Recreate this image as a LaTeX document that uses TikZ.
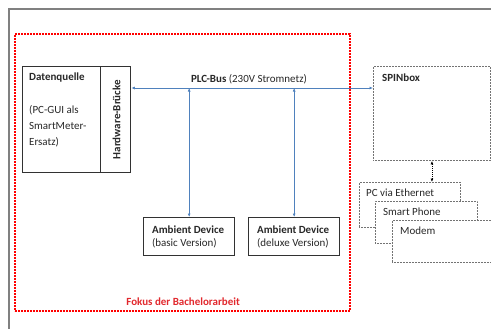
\documentclass[tikz,border=0pt]{standalone}
\usepackage{fontspec}
\setmainfont{Carlito}
\usetikzlibrary{arrows.meta}
\definecolor{busblue}{RGB}{79,129,189}
\definecolor{txtgray}{RGB}{40,40,40}
\definecolor{boxgray}{RGB}{50,50,50}
\definecolor{fokred}{RGB}{225,40,45}
\tikzset{
  solidbox/.style={draw=boxgray, line width=1.3bp, fill=white, inner sep=0pt},
  dotbox/.style={draw=gray!90!black, line width=0.9bp, dash pattern=on 0.9bp off 0.6bp, fill=white, inner sep=0pt},
  lbl/.style={text=txtgray, inner sep=0pt, anchor=west, font=\fontsize{11}{13}\selectfont},
  bus/.style={draw=busblue, line width=1bp, {Latex[length=3.5bp,width=3bp]}-{Latex[length=3.5bp,width=3bp]}},
}
\begin{document}
\begin{tikzpicture}[x=1bp,y=-1bp]
\useasboundingbox (0,0) rectangle (491,329);
% outer frame (clipped)
\draw[draw=gray, line width=1.5bp] (491,9) -- (9,9) -- (9,329);
% focus region
\node[draw=red, line width=1.8bp, dash pattern=on 1.6bp off 1.4bp, minimum width=335bp, minimum height=277bp, anchor=north west, inner sep=0pt] (focus) at (14,33) {};
\node[text=fokred, font=\fontsize{11}{13}\selectfont\bfseries, anchor=east, inner sep=0pt] (foklbl) at (240,302) {Fokus der Bachelorarbeit};
% Datenquelle
\node[solidbox, minimum width=78bp, minimum height=106bp, anchor=north west] (dq) at (22,66) {};
\node[solidbox, minimum width=30bp, minimum height=106bp, anchor=north west] (hw) at (100,66) {};
\node[lbl, font=\fontsize{11}{13}\selectfont\bfseries] (dqt) at (29,78) {Datenquelle};
\node[lbl] (dq1) at (29,110) {(PC-GUI als};
\node[lbl] (dq2) at (29,126) {SmartMeter-};
\node[lbl] (dq3) at (29,142) {Ersatz)};
\node[lbl, anchor=center, rotate=90, font=\fontsize{11}{13}\selectfont\bfseries] (hwt) at ([xshift=1bp]hw.center) {Hardware-Brücke};
% SPINbox
\node[dotbox, minimum width=117bp, minimum height=94bp, anchor=north west] (spin) at (373,66) {};
\node[lbl, font=\fontsize{11}{13}\selectfont\bfseries] (spint) at (382,78) {SPINbox};
% ambient devices
\node[solidbox, minimum width=91bp, minimum height=38bp, anchor=north west] (amb1) at (143,217) {};
\node[lbl, anchor=center, align=left] (amb1t) at ([xshift=-1bp]amb1.center) {\textbf{Ambient Device}\\(basic Version)};
\node[solidbox, minimum width=91bp, minimum height=38bp, anchor=north west] (amb2) at (248,217) {};
\node[lbl, anchor=center, align=left] (amb2t) at ([xshift=-1bp]amb2.center) {\textbf{Ambient Device}\\(deluxe Version)};
% bus
\coordinate (busy) at (0,88);
\node[lbl, anchor=center] (buslbl) at (249,79) {\textbf{PLC-Bus} (230V Stromnetz)};
\draw[bus] (hw.east |- busy) -- (spin.west |- busy);
\draw[bus] (amb1.north |- busy) -- (amb1.north);
\draw[bus] (amb2.north |- busy) -- (amb2.north);
% connected devices
\node[dotbox, minimum width=101bp, minimum height=45bp, anchor=north west] (pc) at (359,182) {};
\node[lbl] (pct) at (366,193) {PC via Ethernet};
\node[dotbox, minimum width=102bp, minimum height=42bp, anchor=north west] (sp) at (375,201) {};
\node[lbl] (spt) at (383,212) {Smart Phone};
\node[dotbox, minimum width=110bp, minimum height=42bp, anchor=north west] (mod) at (392,220) {};
\node[lbl] (modt) at (400,231) {Modem};
\draw[black, line width=0.8bp, dash pattern=on 1bp off 1bp, {Latex[length=3.5bp,width=3bp]}-{Latex[length=3.5bp,width=3bp]}] (spin.south) -- (spin.south |- pc.north);
\end{tikzpicture}
\end{document}
